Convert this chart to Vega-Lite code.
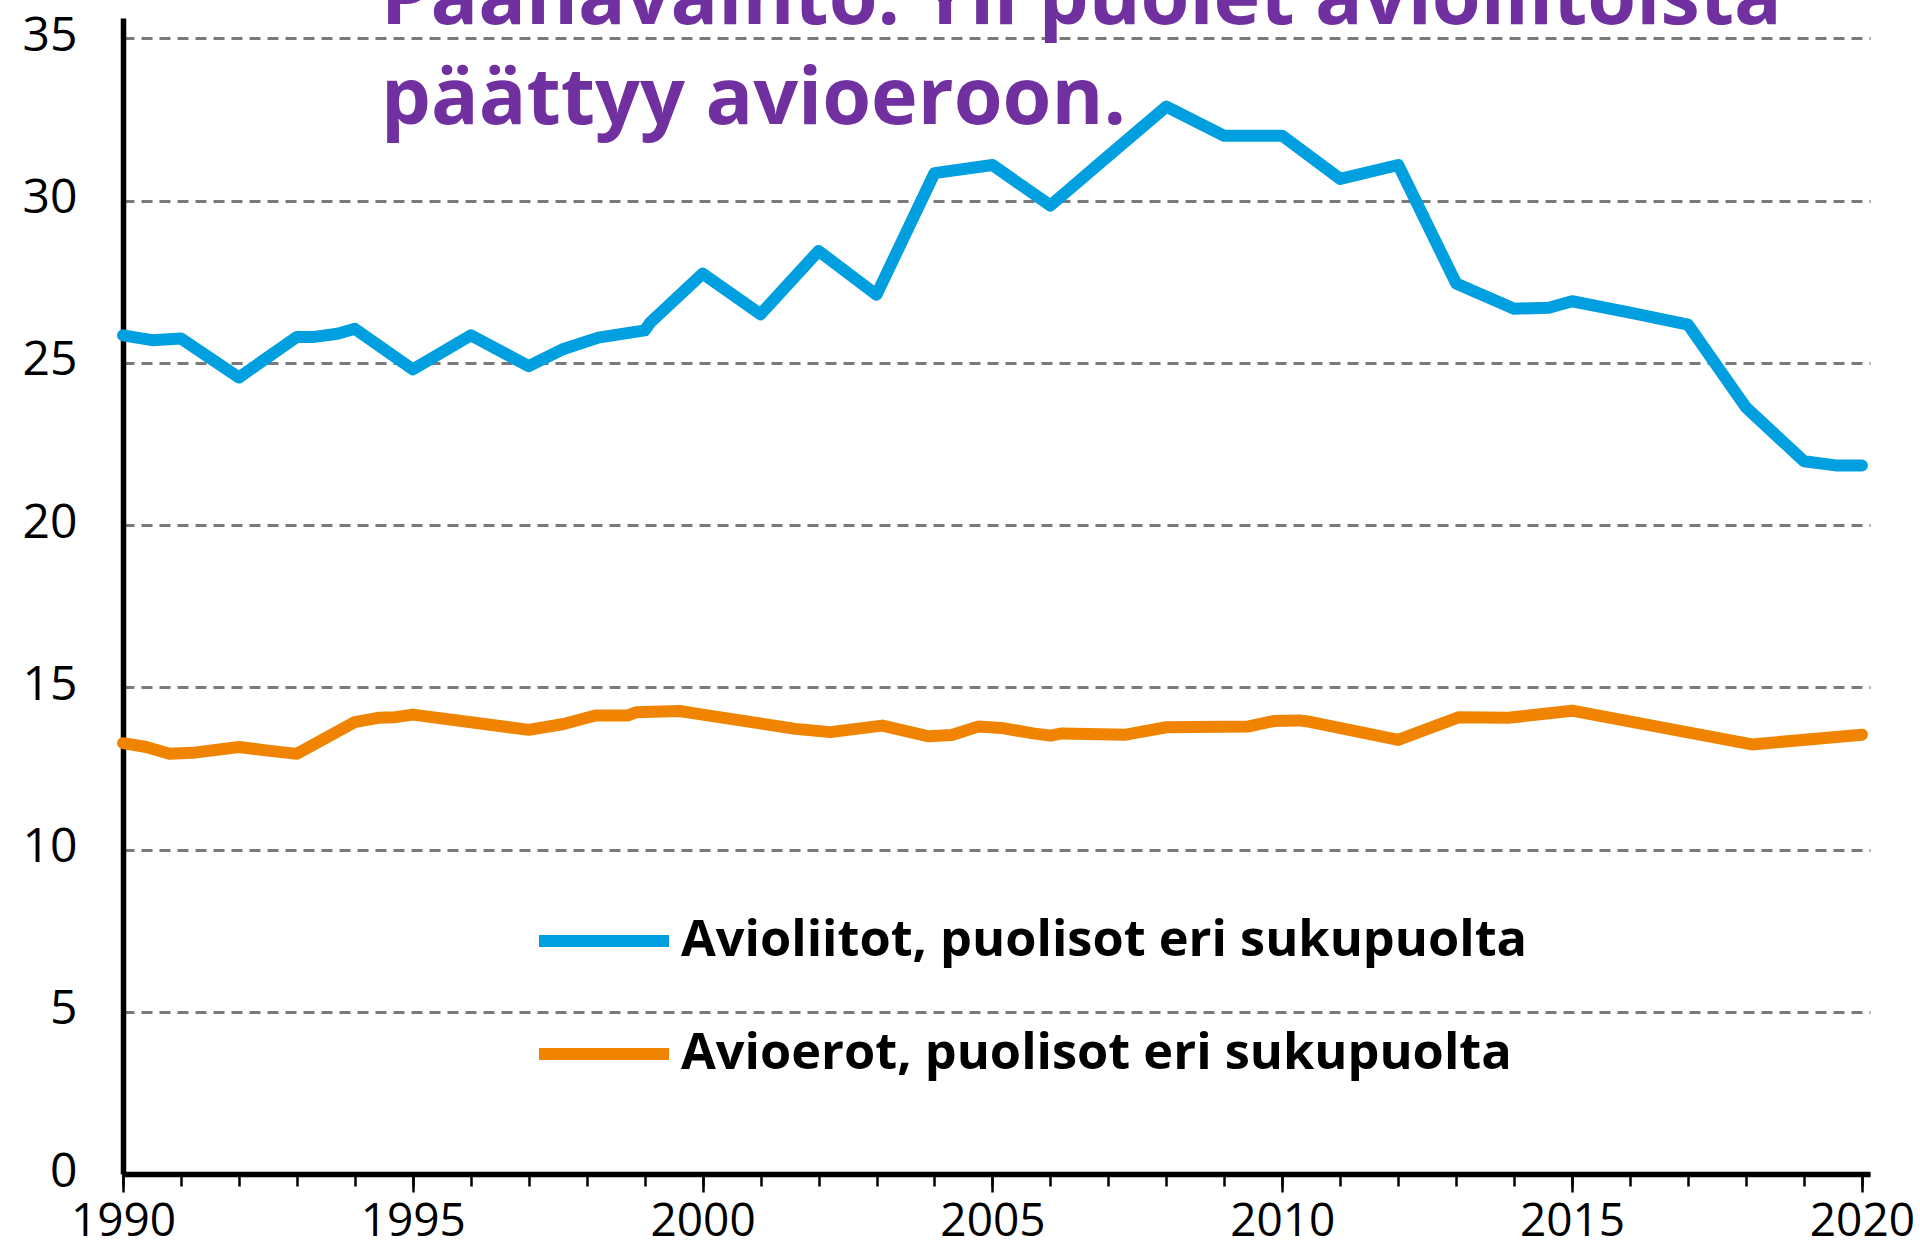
{
  "$schema": "https://vega.github.io/schema/vega-lite/v6.json",
  "width": 1747,
  "height": 1156,
  "autosize": {"type": "none"},
  "padding": {"left": 123, "top": 18, "right": 50, "bottom": 75},
  "background": "white",
  "config": {"view": {"stroke": null}, "font": "Open Sans"},
  "title": {
    "text": ["Päähavainto: Yli puolet avioliitoista", "päättyy avioeroon."],
    "anchor": "start",
    "frame": "group",
    "orient": "top",
    "font": "Open Sans",
    "fontSize": 79,
    "fontWeight": "bold",
    "color": "#7030A0",
    "lineHeight": 100,
    "baseline": "alphabetic",
    "dx": 258,
    "offset": -191
  },
  "data": {
    "values": [
      {"sarja": "Avioliitot, puolisot eri sukupuolta", "vuosi": 1990, "arvo": 25.85},
      {"sarja": "Avioliitot, puolisot eri sukupuolta", "vuosi": 1990.5, "arvo": 25.7},
      {"sarja": "Avioliitot, puolisot eri sukupuolta", "vuosi": 1991, "arvo": 25.75},
      {"sarja": "Avioliitot, puolisot eri sukupuolta", "vuosi": 1992, "arvo": 24.55},
      {"sarja": "Avioliitot, puolisot eri sukupuolta", "vuosi": 1993, "arvo": 25.8},
      {"sarja": "Avioliitot, puolisot eri sukupuolta", "vuosi": 1993.3, "arvo": 25.8},
      {"sarja": "Avioliitot, puolisot eri sukupuolta", "vuosi": 1993.7, "arvo": 25.9},
      {"sarja": "Avioliitot, puolisot eri sukupuolta", "vuosi": 1994, "arvo": 26.05},
      {"sarja": "Avioliitot, puolisot eri sukupuolta", "vuosi": 1995, "arvo": 24.8},
      {"sarja": "Avioliitot, puolisot eri sukupuolta", "vuosi": 1996, "arvo": 25.85},
      {"sarja": "Avioliitot, puolisot eri sukupuolta", "vuosi": 1997, "arvo": 24.9},
      {"sarja": "Avioliitot, puolisot eri sukupuolta", "vuosi": 1997.6, "arvo": 25.43},
      {"sarja": "Avioliitot, puolisot eri sukupuolta", "vuosi": 1998.2, "arvo": 25.78},
      {"sarja": "Avioliitot, puolisot eri sukupuolta", "vuosi": 1999, "arvo": 26.0},
      {"sarja": "Avioliitot, puolisot eri sukupuolta", "vuosi": 1999.1, "arvo": 26.25},
      {"sarja": "Avioliitot, puolisot eri sukupuolta", "vuosi": 2000, "arvo": 27.75},
      {"sarja": "Avioliitot, puolisot eri sukupuolta", "vuosi": 2001, "arvo": 26.5},
      {"sarja": "Avioliitot, puolisot eri sukupuolta", "vuosi": 2002, "arvo": 28.45},
      {"sarja": "Avioliitot, puolisot eri sukupuolta", "vuosi": 2003, "arvo": 27.1},
      {"sarja": "Avioliitot, puolisot eri sukupuolta", "vuosi": 2004, "arvo": 30.85},
      {"sarja": "Avioliitot, puolisot eri sukupuolta", "vuosi": 2005, "arvo": 31.1},
      {"sarja": "Avioliitot, puolisot eri sukupuolta", "vuosi": 2006, "arvo": 29.85},
      {"sarja": "Avioliitot, puolisot eri sukupuolta", "vuosi": 2007, "arvo": 31.38},
      {"sarja": "Avioliitot, puolisot eri sukupuolta", "vuosi": 2008, "arvo": 32.9},
      {"sarja": "Avioliitot, puolisot eri sukupuolta", "vuosi": 2009, "arvo": 32.0},
      {"sarja": "Avioliitot, puolisot eri sukupuolta", "vuosi": 2010, "arvo": 32.0},
      {"sarja": "Avioliitot, puolisot eri sukupuolta", "vuosi": 2011, "arvo": 30.67},
      {"sarja": "Avioliitot, puolisot eri sukupuolta", "vuosi": 2012, "arvo": 31.1},
      {"sarja": "Avioliitot, puolisot eri sukupuolta", "vuosi": 2013, "arvo": 27.45},
      {"sarja": "Avioliitot, puolisot eri sukupuolta", "vuosi": 2014, "arvo": 26.67},
      {"sarja": "Avioliitot, puolisot eri sukupuolta", "vuosi": 2014.6, "arvo": 26.7},
      {"sarja": "Avioliitot, puolisot eri sukupuolta", "vuosi": 2015, "arvo": 26.9},
      {"sarja": "Avioliitot, puolisot eri sukupuolta", "vuosi": 2016, "arvo": 26.55},
      {"sarja": "Avioliitot, puolisot eri sukupuolta", "vuosi": 2017, "arvo": 26.18},
      {"sarja": "Avioliitot, puolisot eri sukupuolta", "vuosi": 2018, "arvo": 23.63},
      {"sarja": "Avioliitot, puolisot eri sukupuolta", "vuosi": 2019, "arvo": 21.97},
      {"sarja": "Avioliitot, puolisot eri sukupuolta", "vuosi": 2019.55, "arvo": 21.84},
      {"sarja": "Avioliitot, puolisot eri sukupuolta", "vuosi": 2020, "arvo": 21.84},
      {"sarja": "Avioerot, puolisot eri sukupuolta", "vuosi": 1990, "arvo": 13.28},
      {"sarja": "Avioerot, puolisot eri sukupuolta", "vuosi": 1990.4, "arvo": 13.16},
      {"sarja": "Avioerot, puolisot eri sukupuolta", "vuosi": 1990.8, "arvo": 12.95},
      {"sarja": "Avioerot, puolisot eri sukupuolta", "vuosi": 1991.2, "arvo": 12.98},
      {"sarja": "Avioerot, puolisot eri sukupuolta", "vuosi": 1992, "arvo": 13.16},
      {"sarja": "Avioerot, puolisot eri sukupuolta", "vuosi": 1992.5, "arvo": 13.05},
      {"sarja": "Avioerot, puolisot eri sukupuolta", "vuosi": 1993, "arvo": 12.95},
      {"sarja": "Avioerot, puolisot eri sukupuolta", "vuosi": 1994, "arvo": 13.93},
      {"sarja": "Avioerot, puolisot eri sukupuolta", "vuosi": 1994.4, "arvo": 14.06},
      {"sarja": "Avioerot, puolisot eri sukupuolta", "vuosi": 1994.7, "arvo": 14.08},
      {"sarja": "Avioerot, puolisot eri sukupuolta", "vuosi": 1995, "arvo": 14.16},
      {"sarja": "Avioerot, puolisot eri sukupuolta", "vuosi": 1997, "arvo": 13.69},
      {"sarja": "Avioerot, puolisot eri sukupuolta", "vuosi": 1997.6, "arvo": 13.87},
      {"sarja": "Avioerot, puolisot eri sukupuolta", "vuosi": 1998.15, "arvo": 14.13},
      {"sarja": "Avioerot, puolisot eri sukupuolta", "vuosi": 1998.7, "arvo": 14.13},
      {"sarja": "Avioerot, puolisot eri sukupuolta", "vuosi": 1998.85, "arvo": 14.23},
      {"sarja": "Avioerot, puolisot eri sukupuolta", "vuosi": 1999.6, "arvo": 14.27},
      {"sarja": "Avioerot, puolisot eri sukupuolta", "vuosi": 2000, "arvo": 14.16},
      {"sarja": "Avioerot, puolisot eri sukupuolta", "vuosi": 2001.6, "arvo": 13.72},
      {"sarja": "Avioerot, puolisot eri sukupuolta", "vuosi": 2002.2, "arvo": 13.62},
      {"sarja": "Avioerot, puolisot eri sukupuolta", "vuosi": 2003.1, "arvo": 13.82},
      {"sarja": "Avioerot, puolisot eri sukupuolta", "vuosi": 2003.9, "arvo": 13.49},
      {"sarja": "Avioerot, puolisot eri sukupuolta", "vuosi": 2004.3, "arvo": 13.53},
      {"sarja": "Avioerot, puolisot eri sukupuolta", "vuosi": 2004.75, "arvo": 13.79},
      {"sarja": "Avioerot, puolisot eri sukupuolta", "vuosi": 2005.15, "arvo": 13.75},
      {"sarja": "Avioerot, puolisot eri sukupuolta", "vuosi": 2005.7, "arvo": 13.58},
      {"sarja": "Avioerot, puolisot eri sukupuolta", "vuosi": 2006, "arvo": 13.51},
      {"sarja": "Avioerot, puolisot eri sukupuolta", "vuosi": 2006.2, "arvo": 13.58},
      {"sarja": "Avioerot, puolisot eri sukupuolta", "vuosi": 2007.3, "arvo": 13.54},
      {"sarja": "Avioerot, puolisot eri sukupuolta", "vuosi": 2008, "arvo": 13.77},
      {"sarja": "Avioerot, puolisot eri sukupuolta", "vuosi": 2009.4, "arvo": 13.79},
      {"sarja": "Avioerot, puolisot eri sukupuolta", "vuosi": 2009.85, "arvo": 13.96},
      {"sarja": "Avioerot, puolisot eri sukupuolta", "vuosi": 2010.3, "arvo": 13.98},
      {"sarja": "Avioerot, puolisot eri sukupuolta", "vuosi": 2010.5, "arvo": 13.93},
      {"sarja": "Avioerot, puolisot eri sukupuolta", "vuosi": 2012, "arvo": 13.38},
      {"sarja": "Avioerot, puolisot eri sukupuolta", "vuosi": 2013.05, "arvo": 14.08},
      {"sarja": "Avioerot, puolisot eri sukupuolta", "vuosi": 2013.9, "arvo": 14.06},
      {"sarja": "Avioerot, puolisot eri sukupuolta", "vuosi": 2015, "arvo": 14.28},
      {"sarja": "Avioerot, puolisot eri sukupuolta", "vuosi": 2018.1, "arvo": 13.24},
      {"sarja": "Avioerot, puolisot eri sukupuolta", "vuosi": 2020, "arvo": 13.54}
    ]
  },
  "layer": [
    {
      "mark": {"type": "line", "strokeWidth": 12, "strokeCap": "round", "strokeJoin": "round"},
      "encoding": {
        "x": {
          "field": "vuosi",
          "type": "quantitative",
          "scale": {"domain": [1990, 2020.14], "nice": false, "zero": false},
          "axis": {
            "orient": "bottom",
            "values": [1990,1991,1992,1993,1994,1995,1996,1997,1998,1999,2000,2001,2002,2003,2004,2005,2006,2007,2008,2009,2010,2011,2012,2013,2014,2015,2016,2017,2018,2019,2020],
            "labels": false,
            "title": null,
            "grid": false,
            "tickSize": 12,
            "tickWidth": 2.5,
            "tickColor": "black",
            "domain": true,
            "domainColor": "black",
            "domainWidth": 5.5
          }
        },
        "y": {
          "field": "arvo",
          "type": "quantitative",
          "scale": {"domain": [0, 35.63], "nice": false, "zero": true},
          "axis": {
            "values": [0, 5, 10, 15, 20, 25, 30, 35],
            "title": null,
            "grid": true,
            "gridDash": [11, 7],
            "gridColor": "#7a7a7a",
            "gridWidth": 3,
            "ticks": false,
            "domainColor": "black",
            "domainWidth": 5.5,
            "labelFont": "Open Sans",
            "labelFontSize": 48,
            "labelColor": "black",
            "labelPadding": 46,
            "labelOffset": -2
          }
        },
        "color": {
          "field": "sarja",
          "type": "nominal",
          "scale": {
            "domain": ["Avioliitot, puolisot eri sukupuolta", "Avioerot, puolisot eri sukupuolta"],
            "range": ["#009FDF", "#F08400"]
          },
          "legend": {
            "orient": "none",
            "legendX": 410,
            "legendY": 852,
            "title": null,
            "symbolType": "stroke",
            "symbolSize": 16900,
            "symbolStrokeWidth": 12,
            "labelFont": "Open Sans",
            "labelFontSize": 50.5,
            "labelFontWeight": "bold",
            "labelColor": "black",
            "labelLimit": 1400,
            "labelOffset": 6,
            "rowPadding": 16
          }
        }
      }
    },
    {
      "mark": {"type": "rule", "opacity": 0},
      "encoding": {
        "x": {
          "field": "vuosi",
          "type": "quantitative",
          "axis": {
            "orient": "bottom",
            "values": [1990, 1995, 2000, 2005, 2010, 2015, 2020],
            "format": "d",
            "title": null,
            "grid": false,
            "domain": false,
            "tickSize": 18,
            "tickWidth": 2.5,
            "tickColor": "black",
            "labelFont": "Open Sans",
            "labelFontSize": 46,
            "labelColor": "black",
            "labelPadding": 7,
            "labelFlush": false,
            "labelOverlap": false
          }
        }
      }
    }
  ],
  "resolve": {"axis": {"x": "independent"}}
}
